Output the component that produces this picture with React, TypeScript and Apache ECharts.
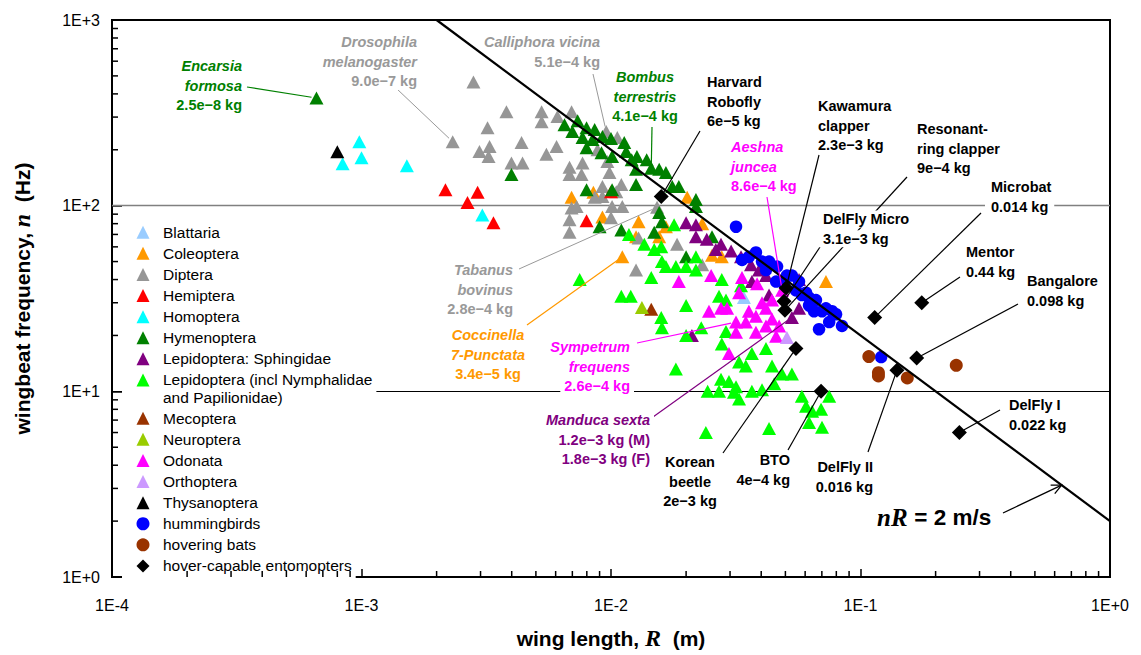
import React, { useEffect, useRef } from "react";
import * as echarts from "echarts";

const SANS = "'Liberation Sans', Arial, Helvetica, sans-serif";
const SERIF = "'Liberation Serif', 'Times New Roman', serif";

// wing length R in mm, wingbeat frequency n in Hz
const blattaria = [[34.1, 32]];
const coleoptera = [[6.95, 111], [8.5, 118], [12.9, 82], [11.1, 53], [20.2, 111], [23.2, 80], [25.4, 54], [9.24, 87], [27.8, 53], [72.7, 39], [16.6, 77], [12.6, 68], [15.6, 68]];
const diptera = [[2.81, 464], [3.81, 321], [5.27, 321], [6.95, 321], [5.27, 283], [6.1, 302], [3.2, 263], [2.32, 221], [3.26, 208], [2.97, 196], [3.23, 184], [4.38, 219], [6.05, 208], [5.51, 189], [3.99, 170], [4.42, 170], [6.82, 161], [7.69, 170], [7.62, 147], [6.82, 147], [9.67, 173], [9.86, 151], [10.6, 233], [9.57, 251], [9.24, 112], [10.1, 99], [11.1, 99], [6.95, 97], [8.6, 111], [6.82, 72], [12.6, 45], [12.9, 67], [18.4, 62], [23.2, 48], [10.5, 119], [15.3, 98], [10, 86], [9.24, 127], [11.0, 130], [7.28, 99], [8.83, 200], [6.82, 84]];
const hemiptera = [[2.17, 122], [2.92, 118], [2.66, 104], [3.38, 81], [7.98, 83], [10, 119]];
const homoptera = [[0.84, 168], [0.98, 221], [1.0, 181], [1.52, 164], [3.05, 89]];
const hymenoptera = [[0.66, 380], [6.51, 273], [7.0, 251], [7.98, 263], [7.69, 233], [8.43, 227], [7.98, 205], [9.24, 236], [10, 230], [9.16, 193], [10.1, 184], [11.3, 219], [11.5, 196], [12.1, 177], [12.7, 184], [13.9, 177], [12.6, 157], [12.6, 130], [15.6, 157], [16.6, 151], [17.6, 127], [18.7, 127], [21.9, 108], [21.9, 99], [7.98, 122], [10.1, 122], [3.99, 147], [9.0, 77], [11.0, 74], [14.9, 72], [16.0, 82], [20.0, 53], [25.4, 68], [15.6, 92], [8.6, 257], [7.35, 287], [14.5, 159]];
const sphingidae = [[20.0, 81], [21.9, 79], [21.9, 68], [26.3, 58], [27.6, 62], [30.3, 57], [36.4, 48], [39.2, 45], [41.8, 42], [36.7, 39], [43.0, 33], [56.7, 40], [56.7, 28], [53.1, 25], [21.1, 20], [33.2, 53], [24.2, 66]];
const lepidoptera = [[7.49, 40], [11.0, 32.5], [12.0, 32.5], [14.5, 41], [14.9, 58], [16.0, 50], [17.9, 79], [15.9, 60], [16.6, 47], [18.2, 47], [20.0, 47], [21.9, 53], [21.9, 45], [20.0, 29], [15.9, 25], [16.0, 22], [23.0, 22], [27.8, 40], [27.1, 32.5], [28.9, 31], [33.2, 37], [20.0, 20], [27.8, 18], [36.7, 16], [32.6, 14.4], [34.7, 13.7], [41.8, 17], [44.2, 13.7], [48.5, 12.4], [45.1, 11], [53.1, 12.4], [18.2, 13.2], [24.4, 10], [27.1, 10], [29.7, 11.3], [31.1, 9.9], [32.6, 9.1], [36.7, 10], [40.3, 10.2], [24.0, 6.0], [43.0, 6.3], [58.2, 9.4], [60.5, 8.3], [69.5, 8.0], [70.1, 6.4], [74.9, 9.4], [64.0, 7.8], [11.8, 70], [28.9, 21], [31.7, 10.6], [62.2, 6.8], [13.6, 62], [27.6, 11.6]];
const mecoptera = [[14.5, 27.7]];
const neuroptera = [[13.3, 28.3]];
const odonata = [[18.7, 39], [25.2, 42], [33.5, 41], [38.5, 38], [32.6, 34], [29.2, 28], [24.7, 27], [27.6, 28], [31.7, 23.6], [34.7, 23.6], [38.1, 25.4], [41.8, 28], [44.2, 24.5], [31.7, 20.8], [38.1, 20.8], [45.9, 19.8], [41.8, 22.5], [29.7, 16], [48.5, 35], [44.2, 31], [40.3, 30], [47.2, 22.5], [35.7, 27]];
const orthoptera = [[50.7, 19.5]];
const thysanoptera = [[0.80, 195]];
const hummingbirds = [[31.7, 77], [33.5, 51], [38.1, 56], [43.0, 50], [46.3, 47], [41.8, 45], [45.9, 39], [50.7, 42], [53.1, 42], [56.7, 39], [58.2, 33], [60.5, 34], [62.2, 32], [66.3, 31], [70.1, 27], [72.7, 28], [76.9, 27], [79.8, 26], [84.3, 22.5], [74.9, 23.6], [68.2, 21.6], [65.1, 27], [62.2, 29], [121, 15.3], [49.4, 38], [55.1, 35], [35.7, 53], [40.3, 50]];
const bats = [[108, 15.4], [118, 12.1], [118, 12.6], [154, 11.8], [242, 13.8]];
// Harvard Robofly, Kawamura, DelFly Micro, Resonant-ring, Korean beetle, BTO, Microbat, Mentor, Bangalore, DelFly II, DelFly I
const entomopters = [[15.9, 112], [50.3, 36], [49.4, 30.6], [49.8, 27.3], [55.1, 17], [69.5, 10], [114, 25], [176, 30], [168, 15.1], [140, 13], [249, 6.0]];

const xTickLabels = ["1E-4", "1E-3", "1E-2", "1E-1", "1E+0"];
const yTickLabels = ["1E+0", "1E+1", "1E+2", "1E+3"];
const minorMultipliers = [2, 3, 4, 5, 6, 7, 8, 9];
const xDecades = [1e-4, 1e-3, 1e-2, 1e-1];
const yDecades = [1, 10, 100];
const tipSpeed = 2; // m/s
const lineR = [0.002, 1];
const arrowR = 0.64;

const LEP = "Lepidoptera (incl Nymphalidae and Papilionidae)";
const legend1 = ["Blattaria", "Coleoptera", "Diptera", "Hemiptera", "Homoptera", "Hymenoptera", "Lepidoptera: Sphingidae", LEP];
const legend2 = ["Mecoptera", "Neuroptera", "Odonata", "Orthoptera", "Thysanoptera", "hummingbirds", "hovering bats", "hover-capable entomopters"];

type Ann = { lines: string[]; italic: number; x: number; y: number; align: string; color: string; from: number[]; target: number[]; pad?: number };
const annotations: Ann[] = [
  { lines: ["Encarsia", "formosa", "2.5e\u22128 kg"], italic: 2, x: 246, y: 66, align: "right", color: "#008000", from: [247, 87], target: hymenoptera[0] },
  { lines: ["Drosophila", "melanogaster", "9.0e\u22127 kg"], italic: 2, x: 421, y: 42, align: "right", color: "#999999", from: [397, 89], target: diptera[7] },
  { lines: ["Calliphora vicina", "5.1e\u22124 kg"], italic: 1, x: 604, y: 42, align: "right", color: "#999999", from: [593, 74], target: diptera[23] },
  { lines: ["Bombus", "terrestris", "4.1e\u22124 kg"], italic: 2, x: 645, y: 77, align: "center", color: "#008000", from: [652, 127], target: hymenoptera[36] },
  { lines: ["Harvard", "Robofly", "6e\u22125 kg"], italic: 0, x: 703, y: 82, align: "left", color: "#000000", from: [700, 131], target: entomopters[0] },
  { lines: ["Aeshna", "juncea", "8.6e\u22124 kg"], italic: 2, x: 727, y: 147, align: "left", color: "#FF00FF", from: [767, 197], target: odonata[18] },
  { lines: ["Kawamura", "clapper", "2.3e\u22123 kg"], italic: 0, x: 814, y: 106, align: "left", color: "#000000", from: [819, 155], target: entomopters[1] },
  { lines: ["Resonant-", "ring clapper", "9e\u22124 kg"], italic: 0, x: 913, y: 129, align: "left", color: "#000000", from: [907, 177], target: entomopters[3] },
  { lines: ["Microbat", "0.014 kg"], italic: 0, x: 985, y: 187, align: "left", color: "#000000", from: [981, 213], target: entomopters[6], pad: 6 },
  { lines: ["DelFly Micro", "3.1e\u22123 kg"], italic: 0, x: 819, y: 219, align: "left", color: "#000000", from: [820, 247], target: entomopters[2] },
  { lines: ["Mentor", "0.44 kg"], italic: 0, x: 962, y: 252, align: "left", color: "#000000", from: [960, 277], target: entomopters[7] },
  { lines: ["Bangalore", "0.098 kg"], italic: 0, x: 1023, y: 281, align: "left", color: "#000000", from: [1018, 304], target: entomopters[8] },
  { lines: ["Tabanus", "bovinus", "2.8e\u22124 kg"], italic: 2, x: 517, y: 270, align: "right", color: "#999999", from: [519, 269], target: diptera[35] },
  { lines: ["Coccinella", "7-Punctata", "3.4e\u22125 kg"], italic: 2, x: 488, y: 335, align: "center", color: "#FF9900", from: [527, 325], target: coleoptera[3] },
  { lines: ["Sympetrum", "frequens", "2.6e\u22124 kg"], italic: 2, x: 634, y: 347, align: "right", color: "#FF00FF", from: [637, 343], target: odonata[8] },
  { lines: ["Manduca sexta", "1.2e\u22123 kg (M)", "1.8e\u22123 kg (F)"], italic: 1, x: 654, y: 420, align: "right", color: "#800080", from: [653, 417], target: sphingidae[13] },
  { lines: ["Korean", "beetle", "2e\u22123 kg"], italic: 0, x: 690, y: 462, align: "center", color: "#000000", from: [723, 453], target: entomopters[4] },
  { lines: ["BTO", "4e\u22124 kg"], italic: 0, x: 794, y: 460, align: "right", color: "#000000", from: [788, 450], target: entomopters[5] },
  { lines: ["DelFly II", "0.016 kg"], italic: 0, x: 877, y: 467, align: "right", color: "#000000", from: [868, 452], target: entomopters[9] },
  { lines: ["DelFly I", "0.022 kg"], italic: 0, x: 1005, y: 405, align: "left", color: "#000000", from: [1000, 410], target: entomopters[10] },
];

const toXY = (d: number[]) => [d[0] / 1000, d[1]];

export default function App() {
  const ref = useRef<HTMLDivElement>(null);
  useEffect(() => {
    const chart = echarts.init(ref.current!, null, { renderer: "svg" });
    const TRI = [14, 13];
    const sc = (name: string, data: number[][], symbol: string, color: string, size: any, extra: any = {}) => ({
      type: "scatter", name, data: data.map(toXY), symbol, symbolSize: size,
      itemStyle: { color, opacity: 1 }, emphasis: { disabled: true }, silent: true, ...extra,
    });
    const minorData: number[][] = [];
    xDecades.forEach((d) => minorMultipliers.forEach((m) => minorData.push([m * d, 1, 0])));
    yDecades.forEach((d) => minorMultipliers.forEach((m) => minorData.push([1e-4, m * d, 1])));

    const series: any[] = [
      sc("Blattaria", blattaria, "triangle", "#99CCFF", TRI, {
        markLine: {
          silent: true, symbol: "none", z: 1, label: { show: false },
          data: [
            { yAxis: 100, lineStyle: { color: "#808080", width: 1.3, type: "solid" } },
            { yAxis: 10, lineStyle: { color: "#000000", width: 1, type: "solid" } },
          ],
        },
      }),
      sc("Coleoptera", coleoptera, "triangle", "#FF9900", TRI),
      sc("Diptera", diptera, "triangle", "#969696", TRI),
      {
        type: "line", name: "nR", data: lineR.map((r) => [r, tipSpeed / r]), symbol: "none",
        lineStyle: { color: "#000", width: 2.2 }, silent: true,
      },
      sc("Hemiptera", hemiptera, "triangle", "#FF0000", TRI),
      sc("Homoptera", homoptera, "triangle", "#00FFFF", TRI),
      sc("Hymenoptera", hymenoptera, "triangle", "#008000", TRI),
      sc("Lepidoptera: Sphingidae", sphingidae, "triangle", "#800080", TRI),
      sc(LEP, lepidoptera, "triangle", "#00FF00", TRI),
      sc("Mecoptera", mecoptera, "triangle", "#993300", TRI),
      sc("Neuroptera", neuroptera, "triangle", "#99CC00", TRI),
      sc("Odonata", odonata, "triangle", "#FF00FF", TRI),
      sc("Orthoptera", orthoptera, "triangle", "#CC99FF", TRI),
      sc("Thysanoptera", thysanoptera, "triangle", "#000000", TRI),
      sc("hummingbirds", hummingbirds, "circle", "#0000FF", 12.5),
      sc("hovering bats", bats, "circle", "#993300", 13),
      sc("hover-capable entomopters", entomopters, "diamond", "#000000", 15),
      {
        type: "custom", name: "minorTicks", silent: true, clip: false, z: 5,
        data: minorData, encode: { x: 0, y: 1 },
        renderItem: (params: any, api: any) => {
          const p = api.coord([api.value(0), api.value(1)]);
          const isX = api.value(2) === 0;
          return {
            type: "line",
            shape: isX ? { x1: p[0], y1: p[1], x2: p[0], y2: p[1] - 6 } : { x1: p[0], y1: p[1], x2: p[0] + 6, y2: p[1] },
            style: { stroke: "#000", lineWidth: 1.5 },
          };
        },
      },
    ];

    const legendCommon = {
      orient: "vertical", left: 122, itemWidth: 13, itemHeight: 13, itemGap: 5.1,
      selectedMode: false, backgroundColor: "#fff",
      textStyle: { fontFamily: SANS, fontSize: 15.5, color: "#000", lineHeight: 15.5, padding: [0, 0, 0, 8.5] },
    };

    const option: any = {
      animation: false,
      backgroundColor: "#fff",
      textStyle: { fontFamily: SANS },
      grid: { left: 112, right: 31, top: 20, bottom: 76, show: true, borderColor: "#000", borderWidth: 2, backgroundColor: "transparent" },
      legend: [
        { ...legendCommon, top: 220.25, padding: [4, 4, 24, 14.5], data: legend1, formatter: (n: string) => (n === LEP ? "Lepidoptera (incl Nymphalidae" : n) },
        { ...legendCommon, top: 406.25, padding: [4, 4, 4, 14.5], data: legend2 },
      ],
      xAxis: {
        type: "log", logBase: 10, min: 1e-4, max: 1,
        name: "{a|wing length, }{b|R}{a|  (m)}", nameLocation: "middle", nameGap: 49,
        nameTextStyle: {
          fontFamily: SANS, fontWeight: "bold", fontSize: 21, color: "#000",
          rich: {
            a: { fontFamily: SANS, fontWeight: "bold", fontSize: 21, color: "#000" },
            b: { fontFamily: SERIF, fontStyle: "italic", fontWeight: "bold", fontSize: 24, color: "#000" },
          },
        },
        axisLine: { show: true, onZero: false, lineStyle: { color: "#000", width: 2 } },
        axisTick: { show: true, inside: true, length: 8, lineStyle: { color: "#000", width: 1.5 } },
        axisLabel: { color: "#000", fontFamily: SANS, fontSize: 16, margin: 20, formatter: (v: number) => xTickLabels[Math.round(Math.log10(v)) + 4] },
        splitLine: { show: false },
      },
      yAxis: {
        type: "log", logBase: 10, min: 1, max: 1000,
        name: "{a|wingbeat frequency, }{b|n}{a|  (Hz)}", nameLocation: "middle", nameGap: 78,
        nameTextStyle: {
          fontFamily: SANS, fontWeight: "bold", fontSize: 21, color: "#000",
          rich: {
            a: { fontFamily: SANS, fontWeight: "bold", fontSize: 21, color: "#000" },
            b: { fontFamily: SERIF, fontStyle: "italic", fontWeight: "bold", fontSize: 24, color: "#000" },
          },
        },
        axisLine: { show: true, onZero: false, lineStyle: { color: "#000", width: 2 } },
        axisTick: { show: true, inside: true, length: 10, lineStyle: { color: "#000", width: 1.5 } },
        axisLabel: { color: "#000", fontFamily: SANS, fontSize: 16, margin: 12, formatter: (v: number) => yTickLabels[Math.round(Math.log10(v))] },
        splitLine: { show: false },
      },
      series,
    };
    chart.setOption(option);

    const g: any[] = [];
    const LH = 19.7;
    annotations.forEach((a) => {
      const pad = a.pad ?? 4;
      a.lines.forEach((t, i) => {
        g.push({
          type: "text", z: 100, x: a.x, y: a.y + i * LH,
          style: {
            text: t, fill: a.color, fontFamily: SANS, fontSize: 14.5, fontWeight: "bold",
            fontStyle: i < a.italic ? "italic" : "normal", align: a.align, verticalAlign: "middle",
            backgroundColor: "#fff", padding: [1, pad],
          },
        });
      });
      const to = chart.convertToPixel({ gridIndex: 0 }, toXY(a.target)) as number[];
      const dx = to[0] - a.from[0];
      const dy = to[1] - a.from[1];
      const len = Math.sqrt(dx * dx + dy * dy);
      const k = Math.max(0, (len - 5) / len);
      g.push({
        type: "line", z: 99,
        shape: { x1: a.from[0], y1: a.from[1], x2: a.from[0] + dx * k, y2: a.from[1] + dy * k },
        style: { stroke: a.color, lineWidth: a.color === "#999999" ? 1 : 1.2 },
      });
    });
    // legend second line
    g.push({
      type: "text", z: 100, x: 163, y: 397,
      style: { text: "and Papilionidae)", fill: "#000", fontFamily: SANS, fontSize: 15.5, align: "left", verticalAlign: "middle" },
    });
    // nR = 2 m/s label and arrow
    g.push({
      type: "text", z: 100, x: 877, y: 517,
      style: {
        text: `{i|nR}  {s|= ${tipSpeed} m/s}`, align: "left", verticalAlign: "middle",
        rich: {
          i: { fontFamily: SERIF, fontStyle: "italic", fontWeight: "bold", fontSize: 25, fill: "#000" },
          s: { fontFamily: SANS, fontWeight: "bold", fontSize: 22.5, fill: "#000" },
        },
      },
    });
    const tip = chart.convertToPixel({ gridIndex: 0 }, [arrowR, tipSpeed / arrowR]) as number[];
    const start = [1003, 513];
    const ax = tip[0] - start[0];
    const ay = tip[1] - start[1];
    const al = Math.sqrt(ax * ax + ay * ay);
    const ux = ax / al, uy = ay / al;
    const head = (ang: number) => {
      const c = Math.cos(ang), s = Math.sin(ang);
      const rx = ux * c - uy * s, ry = ux * s + uy * c;
      return [tip[0] - rx * 11, tip[1] - ry * 11];
    };
    g.push({ type: "line", z: 99, shape: { x1: start[0], y1: start[1], x2: tip[0], y2: tip[1] }, style: { stroke: "#000", lineWidth: 1.3 } });
    g.push({ type: "polyline", z: 99, shape: { points: [head(0.45), tip, head(-0.45)] }, style: { stroke: "#000", lineWidth: 1.3, fill: null } });

    chart.setOption({ graphic: { elements: g } });
    return () => chart.dispose();
  }, []);
  return <div ref={ref} style={{ position: "fixed", left: 0, top: 0, width: 1141, height: 655, background: "#fff" }} />;
}
